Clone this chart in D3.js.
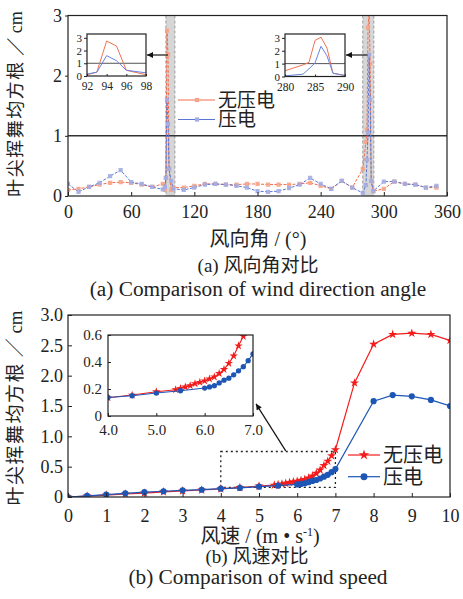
<!DOCTYPE html>
<html>
<head>
<meta charset="utf-8">
<script src="https://cdn.jsdelivr.net/npm/d3@7"></script>
<style>
  body { margin: 0; background: #fff; }
  svg text { font-family: "Liberation Serif", "Noto Sans CJK SC", serif; fill: #222; }
</style>
</head>
<body>
<svg id="fig" width="463" height="599"></svg>
<script>
// ---------- data: (a) wind direction angle ----------
const angleCoarse = [0, 10, 20, 30, 40, 50, 60, 70, 80, 90, 100, 110, 120, 130, 140, 150, 160, 170,
    180, 190, 200, 210, 220, 230, 240, 250, 260, 270, 300, 310, 320, 330, 340, 350];
const noPiezoCoarse = [0.10, 0.12, 0.15, 0.19, 0.22, 0.23, 0.22, 0.19, 0.15, 0.20, 0.14, 0.14, 0.17, 0.20, 0.20, 0.19, 0.19, 0.20,
    0.20, 0.19, 0.19, 0.19, 0.20, 0.22, 0.17, 0.12, 0.25, 0.14, 0.12, 0.24, 0.20, 0.19, 0.14, 0.14];
const piezoCoarse = [0.20, 0.07, 0.15, 0.22, 0.33, 0.43, 0.23, 0.20, 0.15, 0.11, 0.12, 0.10, 0.14, 0.19, 0.20, 0.19, 0.17, 0.14,
    0.08, 0.07, 0.08, 0.13, 0.19, 0.30, 0.20, 0.12, 0.25, 0.14, 0.24, 0.24, 0.20, 0.19, 0.14, 0.17];

// zoomed windows around the two peaks
const angleFine1 = [92, 93, 94, 95, 96, 98];
const noPiezoFine1 = [0.10, 0.30, 2.75, 2.35, 0.45, 0.10];
const piezoFine1 = [0.15, 0.30, 1.60, 1.20, 0.45, 0.25];

const angleFine2 = [280, 283, 284, 285, 286, 287, 288, 290];
const noPiezoFine2 = [0.45, 0.90, 1.10, 2.80, 3.05, 2.20, 0.25, 0.08];
const piezoFine2 = [0.05, 0.18, 0.60, 1.05, 2.35, 1.60, 0.25, 0.08];

// ---------- data: (b) wind speed ----------
const speedNoPiezo = [0, 0.5, 1, 1.5, 2, 2.5, 3, 3.5, 4, 4.5, 5,
    5.4, 5.5, 5.6, 5.7, 5.8, 5.9, 6.0, 6.1, 6.2, 6.3, 6.4, 6.5, 6.6, 6.7, 6.8, 6.9, 7.0,
    7.5, 8, 8.5, 9, 9.5, 10];
const rmsNoPiezo = [0, 0.015, 0.03, 0.05, 0.065, 0.085, 0.10, 0.115, 0.135, 0.155, 0.18,
    0.195, 0.205, 0.215, 0.225, 0.24, 0.25, 0.26, 0.275, 0.29, 0.315, 0.345, 0.39, 0.445, 0.52, 0.59, 0.68, 0.78,
    1.88, 2.52, 2.68, 2.70, 2.68, 2.58];
const speedPiezo = [0, 0.5, 1, 1.5, 2, 2.5, 3, 3.5, 4, 4.5, 5, 5.5,
    6.0, 6.1, 6.2, 6.3, 6.4, 6.5, 6.6, 6.7, 6.8, 6.9, 7.0,
    8, 8.5, 9, 9.5, 10];
const rmsPiezo = [0, 0.02, 0.04, 0.06, 0.08, 0.095, 0.11, 0.12, 0.137, 0.15, 0.17, 0.187,
    0.207, 0.215, 0.225, 0.245, 0.265, 0.28, 0.305, 0.335, 0.365, 0.41, 0.46,
    1.58, 1.68, 1.66, 1.60, 1.50];

const legendNames = ["无压电", "压电"];
const angleTicks = [0, 60, 120, 180, 240, 300, 360];
const speedTicks = [0, 1, 2, 3, 4, 5, 6, 7, 8, 9, 10];
const rmsTicksB = [0, 0.5, 1.0, 1.5, 2.0, 2.5, 3.0];

const zip = (xs, ys) => xs.map((x, i) => ({ x: x, y: ys[i] }));
const fmtInt = d3.format("d");
const fmtDec = d => d === 0 ? "0" : d3.format(".1f")(d);
const SERIF = '"Liberation Serif", "Noto Sans CJK SC", serif';

const svg = d3.select("#fig");
const defs = svg.append("defs");
defs.append("marker")
    .attr("id", "arrowHead")
    .attr("viewBox", "0 0 10 10")
    .attr("refX", 10).attr("refY", 5)
    .attr("markerWidth", 9).attr("markerHeight", 6)
    .attr("markerUnits", "userSpaceOnUse")
    .attr("orient", "auto")
    .append("path").attr("d", "M0,0L10,5L0,10Z").attr("fill", "#111");

function clipRect(id, x, y, w, h) {
    defs.append("clipPath").attr("id", id)
        .append("rect").attr("x", x).attr("y", y).attr("width", w).attr("height", h);
}

function styleAxis(g, size) {
    g.attr("font-family", null).attr("font-size", null);
    g.select(".domain").remove();
    g.selectAll("line").attr("stroke", "#222");
    g.selectAll("text").style("font-size", size + "px").style("font-family", SERIF).attr("fill", "#222");
}

function frame(x, y) {
    const [x0, x1] = x.range(), [y0, y1] = y.range();
    svg.append("rect")
        .attr("x", x0).attr("y", y1)
        .attr("width", x1 - x0).attr("height", y0 - y1)
        .attr("fill", "none").attr("stroke", "#222").attr("stroke-width", 1.2);
}

function yTitle(cx, cy, size) {
    const t = svg.append("text").attr("transform", `translate(${cx},${cy}) rotate(-90)`)
        .attr("text-anchor", "middle").style("font-size", size + "px");
    t.append("tspan").style("letter-spacing", "1.5px").text("叶尖挥舞均方根");
    t.append("tspan").text(" ／ cm");
}

// ================= (a) =================
const xA = d3.scaleLinear().domain([0, 360]).range([68, 447]);
const yA = d3.scaleLinear().domain([0, 3]).range([196, 15.5]);
clipRect("clipA", 68, 15.5, 379, 180.5);

const topNoPiezo = d3.sort(zip(angleCoarse, noPiezoCoarse)
    .concat(zip(angleFine1, noPiezoFine1), zip(angleFine2, noPiezoFine2)), d => d.x);
const topPiezo = d3.sort(zip(angleCoarse, piezoCoarse)
    .concat(zip(angleFine1, piezoFine1), zip(angleFine2, piezoFine2)), d => d.x);

// grey highlight bands around the peaks
const bands = [[93, 101.5], [280, 290.5]];
const bandG = svg.append("g");
bands.forEach(([a, b]) => {
    bandG.append("rect")
        .attr("x", xA(a)).attr("y", yA(3))
        .attr("width", xA(b) - xA(a)).attr("height", yA(0) - yA(3))
        .attr("fill", "#d6d6d6");
    [a, b].forEach(v => bandG.append("line")
        .attr("x1", xA(v)).attr("x2", xA(v))
        .attr("y1", yA(3)).attr("y2", yA(0))
        .attr("stroke", "#9a9a9a").attr("stroke-width", 1)
        .attr("stroke-dasharray", "3,2"));
});

svg.append("line")
    .attr("x1", xA(0)).attr("x2", xA(360))
    .attr("y1", yA(1)).attr("y2", yA(1))
    .attr("stroke", "#333").attr("stroke-width", 1.5);

const topSeries = [
    { data: topNoPiezo, stroke: "#f26a4c", fill: "#f6a487" },
    { data: topPiezo, stroke: "#5a76d4", fill: "#a3ade3" }
];
const plotA = svg.append("g").attr("clip-path", "url(#clipA)");
const lineA = d3.line().x(d => xA(d.x)).y(d => yA(d.y));
const square = d3.symbol().type(d3.symbolSquare).size(18);
topSeries.forEach(s => {
    plotA.append("path")
        .attr("d", lineA(s.data))
        .attr("fill", "none").attr("stroke", s.stroke)
        .attr("stroke-width", 1).attr("stroke-dasharray", "3,1.5");
    plotA.selectAll(null).data(s.data).join("path")
        .attr("d", square)
        .attr("transform", d => `translate(${xA(d.x)},${yA(d.y)})`)
        .attr("fill", s.fill).attr("opacity", 0.9);
});
frame(xA, yA);

svg.append("g").attr("transform", `translate(0,${yA(0)})`)
    .call(d3.axisBottom(xA).tickValues(angleTicks).tickFormat(fmtInt)
        .tickSizeInner(-4).tickSizeOuter(0).tickPadding(9))
    .call(g => styleAxis(g, 18));
svg.append("g").attr("transform", `translate(${xA(0)},0)`)
    .call(d3.axisLeft(yA).tickValues([0, 1, 2, 3]).tickFormat(fmtInt)
        .tickSizeInner(3).tickSizeOuter(0).tickPadding(3))
    .call(g => styleAxis(g, 18));

// legend (a)
topSeries.forEach((s, i) => {
    const ly = 100 + i * 19.5;
    svg.append("line").attr("x1", 178).attr("x2", 215).attr("y1", ly).attr("y2", ly)
        .attr("stroke", s.stroke).attr("stroke-width", 1);
    svg.append("path").attr("d", square).attr("transform", `translate(197,${ly})`).attr("fill", s.fill);
    svg.append("text").attr("x", 218).attr("y", ly).attr("dy", "0.36em")
        .style("font-size", "19px").text(legendNames[i]);
});

// insets for (a)
function topInset(id, domainX, ticksX, fineX, red, blue, box) {
    const x = d3.scaleLinear().domain(domainX).range([box.x0, box.x1]);
    const y = d3.scaleLinear().domain([0, 3.3]).range([box.y1, box.y0]);
    clipRect(id, box.x0, box.y0, box.x1 - box.x0, box.y1 - box.y0);
    svg.append("rect").attr("x", box.x0).attr("y", box.y0)
        .attr("width", box.x1 - box.x0).attr("height", box.y1 - box.y0).attr("fill", "#fff");
    const g = svg.append("g").attr("clip-path", `url(#${id})`);
    g.append("line").attr("x1", box.x0).attr("x2", box.x1)
        .attr("y1", y(1)).attr("y2", y(1)).attr("stroke", "#555").attr("stroke-width", 1);
    const ln = d3.line().x(d => x(d.x)).y(d => y(d.y));
    g.append("path").attr("d", ln(zip(fineX, red))).attr("fill", "none")
        .attr("stroke", "#f07252").attr("stroke-width", 1);
    g.append("path").attr("d", ln(zip(fineX, blue))).attr("fill", "none")
        .attr("stroke", "#6584e0").attr("stroke-width", 1);
    frame(x, y);
    svg.append("g").attr("transform", `translate(0,${box.y1})`)
        .call(d3.axisBottom(x).tickValues(ticksX).tickFormat(fmtInt)
            .tickSizeInner(-2).tickSizeOuter(0).tickPadding(6))
        .call(gg => styleAxis(gg, 11.5));
    svg.append("g").attr("transform", `translate(${box.x0},0)`)
        .call(d3.axisLeft(y).tickValues([0, 1, 2, 3]).tickFormat(fmtInt)
            .tickSizeInner(3).tickSizeOuter(0).tickPadding(2))
        .call(gg => styleAxis(gg, 11));
}
topInset("clipI1", [92, 98], [92, 94, 96, 98], angleFine1, noPiezoFine1, piezoFine1,
    { x0: 87, x1: 146, y0: 34, y1: 76 });
topInset("clipI2", [280, 290], [280, 285, 290], angleFine2, noPiezoFine2, piezoFine2,
    { x0: 285, x1: 345, y0: 34, y1: 76.5 });

// arrows from the bands to the insets
[[xA(95), 146], [xA(284.5), 345]].forEach(([from, to]) => {
    svg.append("line").attr("x1", from).attr("x2", to + 1).attr("y1", 55).attr("y2", 55)
        .attr("stroke", "#111").attr("stroke-width", 1.2).attr("marker-end", "url(#arrowHead)");
});

yTitle(22, 104, 18);
svg.append("text").attr("x", 258).attr("y", 246).attr("text-anchor", "middle")
    .style("font-size", "20px").text("风向角 / (°)");
svg.append("text").attr("x", 258).attr("y", 272).attr("text-anchor", "middle")
    .style("font-size", "19px").text("(a) 风向角对比");
svg.append("text").attr("x", 258).attr("y", 296).attr("text-anchor", "middle")
    .style("font-size", "21.3px").text("(a) Comparison of wind direction angle");

// ================= (b) =================
const xB = d3.scaleLinear().domain([0, 10]).range([68, 450]);
const yB = d3.scaleLinear().domain([0, 3]).range([497, 315]);
clipRect("clipB", 68, 315, 382, 182);

const botSeries = [
    { data: zip(speedNoPiezo, rmsNoPiezo), color: "#f21c1c", sym: d3.symbolStar, size: 26, isize: 22 },
    { data: zip(speedPiezo, rmsPiezo), color: "#1d56b5", sym: d3.symbolCircle, size: 30, isize: 22 }
];

// dotted zoom window
svg.append("rect")
    .attr("x", xB(4)).attr("y", yB(0.75))
    .attr("width", xB(7) - xB(4)).attr("height", yB(0.16) - yB(0.75))
    .attr("fill", "none").attr("stroke", "#222").attr("stroke-width", 1.3)
    .attr("stroke-dasharray", "2,3");

const plotB = svg.append("g").attr("clip-path", "url(#clipB)");
const lineB = d3.line().x(d => xB(d.x)).y(d => yB(d.y));
botSeries.forEach(s => {
    plotB.append("path").attr("d", lineB(s.data)).attr("fill", "none")
        .attr("stroke", s.color).attr("stroke-width", 1.2);
    plotB.selectAll(null).data(s.data).join("path")
        .attr("d", d3.symbol().type(s.sym).size(s.size))
        .attr("transform", d => `translate(${xB(d.x)},${yB(d.y)})`)
        .attr("fill", s.color);
});
frame(xB, yB);

svg.append("g").attr("transform", `translate(0,${yB(0)})`)
    .call(d3.axisBottom(xB).tickValues(speedTicks).tickFormat(fmtInt)
        .tickSizeInner(-4).tickSizeOuter(0).tickPadding(12))
    .call(g => styleAxis(g, 18));
svg.append("g").attr("transform", `translate(${xB(0)},0)`)
    .call(d3.axisLeft(yB).tickValues(rmsTicksB).tickFormat(fmtDec)
        .tickSizeInner(-4).tickSizeOuter(0).tickPadding(5))
    .call(g => styleAxis(g, 18));

// legend (b)
botSeries.forEach((s, i) => {
    const ly = 455 + i * 21.7;
    svg.append("line").attr("x1", 348).attr("x2", 380).attr("y1", ly).attr("y2", ly)
        .attr("stroke", s.color).attr("stroke-width", 1.2);
    svg.append("path").attr("d", d3.symbol().type(s.sym).size(s.size + 8))
        .attr("transform", `translate(364,${ly})`).attr("fill", s.color);
    svg.append("text").attr("x", 383).attr("y", ly).attr("dy", "0.36em")
        .style("font-size", "20px").text(legendNames[i]);
});

// inset (b)
const xI = d3.scaleLinear().domain([4, 7]).range([108, 253]);
const yI = d3.scaleLinear().domain([0, 0.6]).range([416, 335]);
clipRect("clipI3", 108, 335, 145, 81);
svg.append("rect").attr("x", 108).attr("y", 335).attr("width", 145).attr("height", 81).attr("fill", "#fff");
const insetB = svg.append("g").attr("clip-path", "url(#clipI3)");
const lineI = d3.line().x(d => xI(d.x)).y(d => yI(d.y));
botSeries.forEach(s => {
    const part = s.data.filter(d => d.x >= 4 && d.x <= 7);
    insetB.append("path").attr("d", lineI(part)).attr("fill", "none")
        .attr("stroke", s.color).attr("stroke-width", 1.1);
    insetB.selectAll(null).data(part).join("path")
        .attr("d", d3.symbol().type(s.sym).size(s.isize))
        .attr("transform", d => `translate(${xI(d.x)},${yI(d.y)})`)
        .attr("fill", s.color);
});
frame(xI, yI);
svg.append("g").attr("transform", `translate(0,${yI(0)})`)
    .call(d3.axisBottom(xI).tickValues([4, 5, 6, 7]).tickFormat(d3.format(".1f"))
        .tickSizeInner(-3).tickSizeOuter(0).tickPadding(8))
    .call(g => styleAxis(g, 15));
svg.append("g").attr("transform", `translate(${xI(4)},0)`)
    .call(d3.axisLeft(yI).tickValues([0, 0.2, 0.4, 0.6]).tickFormat(fmtDec)
        .tickSizeInner(-3).tickSizeOuter(0).tickPadding(6))
    .call(g => styleAxis(g, 15));

// arrow from the dotted window to the inset
svg.append("line")
    .attr("x1", xB(5.7)).attr("y1", yB(0.76))
    .attr("x2", xI(7) + 3).attr("y2", yI(0.09))
    .attr("stroke", "#111").attr("stroke-width", 1.2).attr("marker-end", "url(#arrowHead)");

yTitle(22, 408, 19);

const xt = svg.append("text").attr("x", 260).attr("y", 543).attr("text-anchor", "middle")
    .style("font-size", "20px");
xt.append("tspan").text("风速 / (m • s");
xt.append("tspan").attr("dy", -7).style("font-size", "12px").text("-1");
xt.append("tspan").attr("dy", 7).text(")");
svg.append("text").attr("x", 257).attr("y", 563).attr("text-anchor", "middle")
    .style("font-size", "19px").text("(b) 风速对比");
svg.append("text").attr("x", 258).attr("y", 584).attr("text-anchor", "middle")
    .style("font-size", "21.3px").text("(b) Comparison of wind speed");
</script>
</body>
</html>
